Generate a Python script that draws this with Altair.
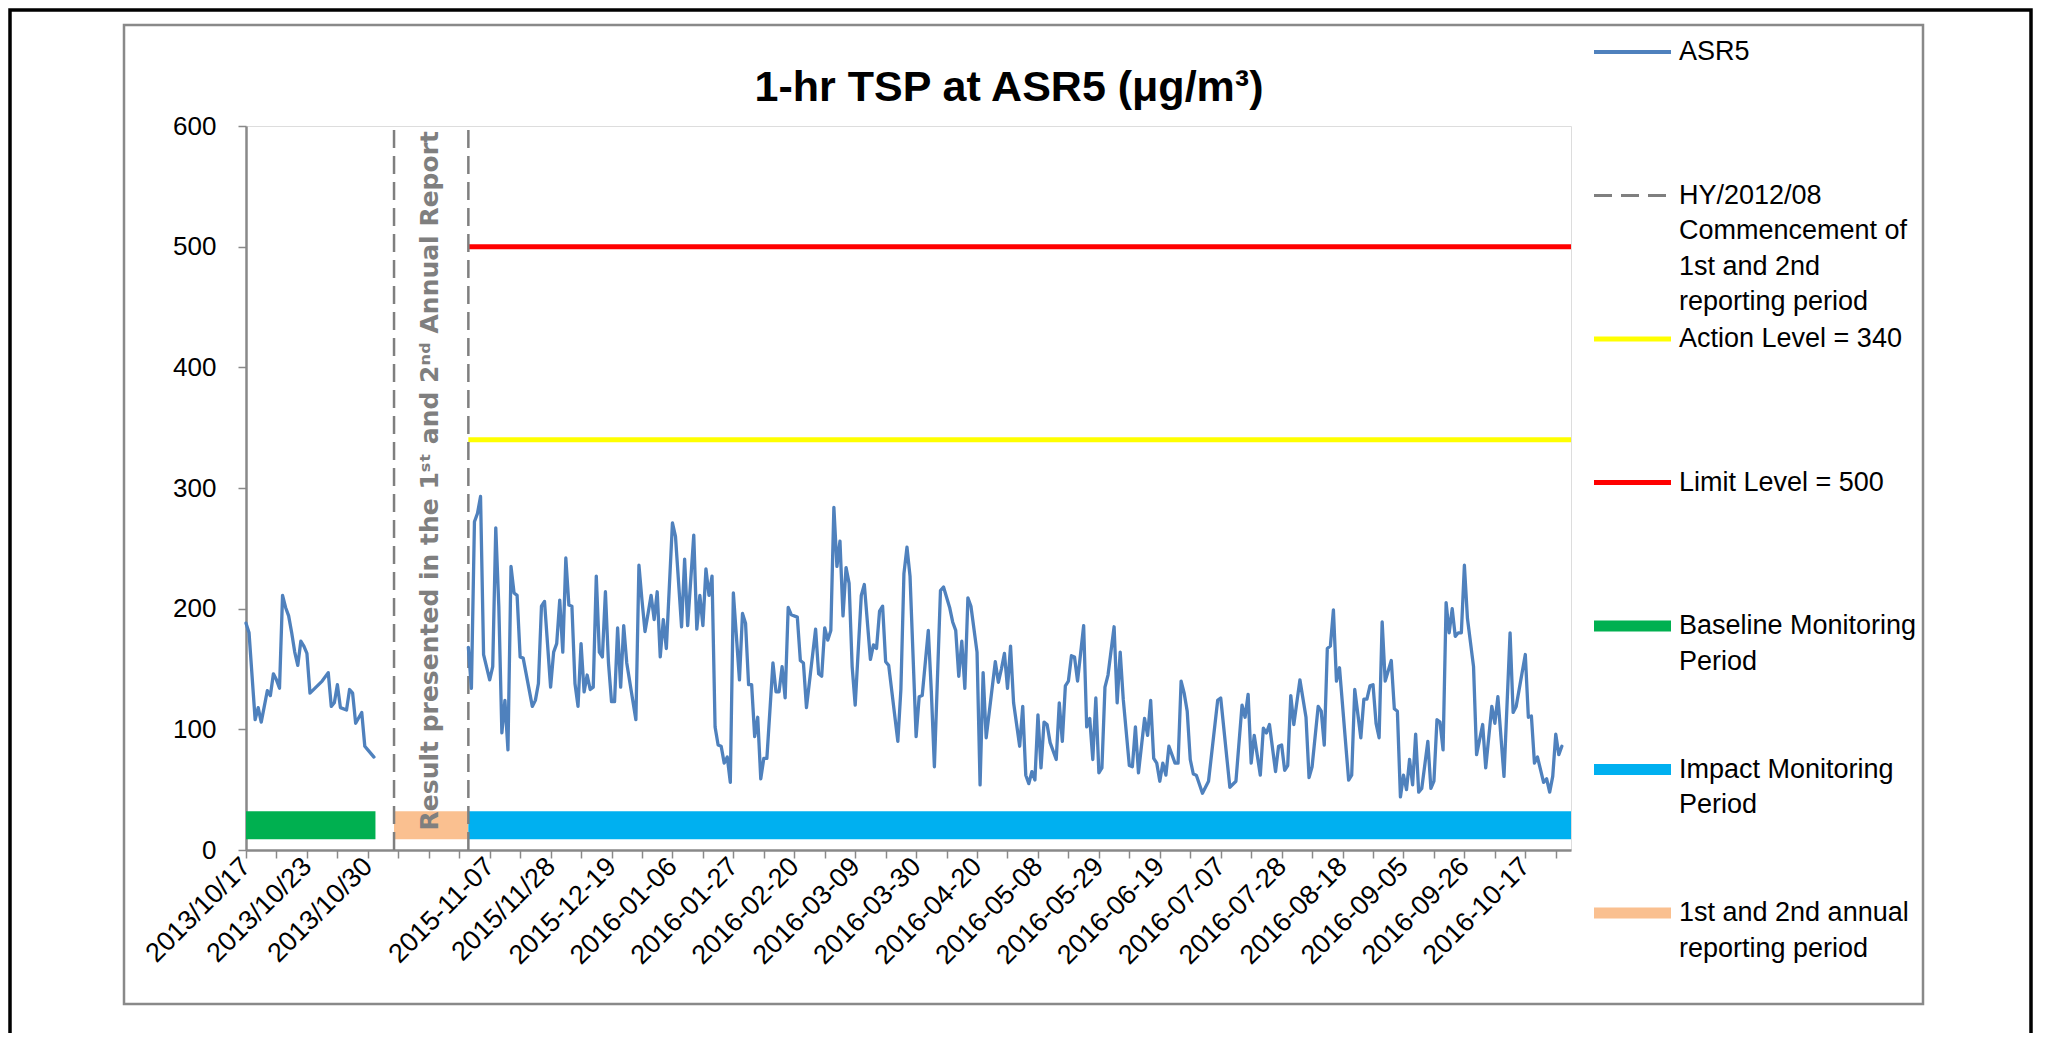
import altair as alt
import pandas as pd

# ---------------- data ----------------
TITLE = "1-hr TSP at ASR5 (μg/m³)"

# category index (one category per 1-hr measurement) and TSP value, baseline period
baseline_idx = [0, 1, 3, 4, 5, 7, 8, 9, 10, 11,
                12, 13, 14, 15, 16, 17, 18, 19, 20, 21,
                23, 25, 27, 28, 29, 30, 31,
                33, 34, 35, 36,
                38, 39, 40, 42]
baseline_val = [188, 180, 108, 118, 106, 132, 128, 146, 141, 134,
                211, 201, 194, 180, 164, 153, 173, 169, 163, 130,
                135, 140, 147, 119, 122, 137, 118,
                116, 133, 130, 105,
                114, 86, 83, 77]

# impact period
impact_idx = [
    73, 74, 75, 76, 77, 78, 80, 81, 82, 83,
    84, 85, 86, 87, 88, 89, 90, 91, 94, 95,
    96, 97, 98, 100, 101, 102, 103, 104, 105, 106,
    107, 108, 109, 110, 111, 112, 113, 114, 115, 116,
    117, 118, 119, 120, 121, 122, 123, 124, 125, 128,
    129, 130, 131, 133, 134, 135, 136, 137, 138, 140,
    141, 143, 144, 145, 147, 148, 149, 150, 151, 152,
    153, 154, 155, 156, 157, 158, 159, 160, 162, 163,
    164, 165, 166, 167, 168, 169, 170, 171, 173, 174,
    175, 176, 177, 178, 179, 181, 182, 183, 184, 187,
    188, 189, 190, 191, 192, 193, 194, 195, 196, 197,
    198, 199, 200, 202, 203, 205, 206, 207, 208, 209,
    210, 211, 214, 215, 216, 217, 218, 220, 221, 222,
    224, 225, 226, 228, 229, 231, 232, 233, 234, 235,
    236, 237, 238, 240, 241, 242, 243, 246, 247, 248,
    249, 250, 251, 252, 254, 255, 256, 257, 258, 259,
    260, 261, 262, 263, 264, 266, 267, 268, 269, 270,
    271, 272, 273, 275, 276, 277, 278, 279, 280, 281,
    282, 283, 285, 286, 287, 288, 290, 291, 292, 293,
    295, 296, 297, 298, 299, 300, 301, 302, 303, 305,
    306, 307, 308, 309, 310, 311, 312, 314, 316, 319,
    320, 323, 325, 327, 328, 329, 330, 331, 333, 334,
    335, 336, 338, 339, 340, 341, 342, 343, 344, 346,
    348, 349, 350, 352, 353, 354, 355, 356, 357, 358,
    359, 362, 363, 364, 366, 367, 368, 369, 370, 371,
    372, 373, 374, 376, 377, 378, 379, 380, 381, 382,
    383, 384, 385, 386, 388, 389, 390, 391, 392, 393,
    394, 395, 396, 397, 398, 399, 400, 401, 403, 404,
    406, 407, 409, 410, 411, 413, 415, 416, 417, 420,
    421, 422, 423, 424, 426, 427, 428, 429, 430, 431,
    432]
impact_val = [
    168, 134, 272, 279, 293, 162, 141, 152, 267, 202,
    97, 124, 83, 235, 213, 211, 160, 159, 119, 124,
    138, 202, 206, 135, 164, 171, 207, 164, 242, 203,
    202, 138, 119, 171, 131, 145, 133, 135, 227, 164,
    160, 214, 155, 123, 123, 184, 135, 186, 155, 108,
    236, 207, 181, 211, 191, 214, 160, 191, 167, 271,
    260, 185, 241, 186, 261, 183, 211, 186, 233, 211,
    227, 102, 87, 86, 72, 77, 56, 213, 141, 196,
    188, 137, 137, 94, 110, 59, 76, 76, 155, 131,
    131, 152, 126, 201, 195, 193, 157, 155, 118, 183,
    146, 144, 184, 174, 182, 284, 235, 256, 194, 234,
    221, 152, 120, 211, 220, 158, 170, 167, 198, 202,
    156, 153, 90, 133, 229, 251, 227, 94, 127, 128,
    182, 131, 69, 215, 218, 201, 189, 182, 144, 173,
    134, 209, 202, 164, 54, 147, 93, 156, 139, 150,
    163, 134, 169, 122, 86, 119, 62, 55, 65, 58,
    112, 68, 106, 104, 89, 75, 122, 90, 136, 140,
    161, 160, 140, 186, 102, 109, 75, 126, 64, 68,
    135, 145, 185, 122, 164, 125, 70, 69, 102, 64,
    109, 95, 124, 76, 72, 57, 72, 62, 86, 72,
    72, 140, 130, 115, 75, 63, 62, 47, 57, 124,
    126, 52, 57, 120, 110, 129, 72, 95, 62, 101,
    97, 104, 65, 86, 87, 66, 70, 128, 104, 141,
    110, 60, 69, 119, 115, 87, 167, 169, 199, 140,
    151, 58, 62, 133, 93, 125, 125, 136, 137, 105,
    93, 189, 140, 157, 117, 115, 44, 62, 50, 75,
    54, 96, 48, 51, 90, 51, 57, 108, 106, 83,
    205, 180, 200, 177, 180, 180, 236, 192, 152, 79,
    104, 68, 119, 105, 127, 61, 180, 114, 119, 162,
    110, 111, 72, 77, 56, 59, 48, 61, 96, 79,
    86]
assert len(impact_idx) == len(impact_val)
assert len(baseline_idx) == len(baseline_val)

# category axis: a tick every 10 categories, a date label every 20
date_labels = ["2013/10/17", "2013/10/23", "2013/10/30", "", "2015-11-07",
               "2015/11/28", "2015-12-19", "2016-01-06", "2016-01-27",
               "2016-02-20", "2016-03-09", "2016-03-30", "2016-04-20",
               "2016-05-08", "2016-05-29", "2016-06-19", "2016-07-07",
               "2016-07-28", "2016-08-18", "2016-09-05", "2016-09-26",
               "2016-10-17"]
n_categories_end = 435

# monitoring periods (category ranges) drawn as thick bars near the axis
period_names = ["Baseline Monitoring Period", "1st and 2nd annual reporting period",
                "Impact Monitoring Period"]
period_start = [0, 48.6, 73]
period_end = [42.5, 73, 435]
period_level = [20.5, 20.5, 20.5]

# criteria levels
level_names = ["Action Level = 340", "Limit Level = 500"]
level_values = [340, 500]
level_start = [73, 73]
level_end = [435, 435]

# HY/2012/08 commencement markers (category positions)
marker_pos = [48.6, 73]

note_text = ["Result presented in the 1ˢᵗ and 2ⁿᵈ Annual Report"]
note_idx = [60.4]
note_val = [306]

# ---------------- styling ----------------
FONT = "Liberation Sans"
BLUE = "#4F81BD"
GRAY = "#898989"
DASH_GRAY = "#7F7F7F"
period_colors = ["#00B050", "#FAC090", "#00B0F0"]
level_colors = ["#FFFF00", "#FF0000"]

W, H = 1325, 724
PAD = {"left": 238, "top": 118, "right": 462, "bottom": 183}

x_scale = alt.Scale(domain=[0, n_categories_end], nice=False, zero=False)
y_scale = alt.Scale(domain=[0, 600], nice=False)

tick_values = list(range(0, 431, 10))
arr = ",".join(
    ("'" + date_labels[k // 2] + "'") if (k % 2 == 0 and k // 2 < len(date_labels)) else "''"
    for k in range(len(tick_values))
)
x_axis = alt.Axis(values=tick_values, labelExpr="[" + arr + "][round(datum.value/10)]",
                  labelAngle=-45, labelAlign="right", labelBaseline="middle",
                  labelFont=FONT, labelFontSize=27, labelColor="#000000",
                  labelPadding=4, labelOverlap=False, labelFlush=False, labelBound=False,
                  tickSize=8, tickColor=GRAY, tickWidth=1.5,
                  domainColor=GRAY, domainWidth=2.5, grid=False, title=None)
y_axis = alt.Axis(values=[0, 100, 200, 300, 400, 500, 600],
                  labelFont=FONT, labelFontSize=26, labelColor="#000000",
                  labelPadding=22, tickSize=8, tickColor=GRAY, tickWidth=1.5,
                  domainColor=GRAY, domainWidth=2.5, grid=False, title=None)

X = lambda f: alt.X(f, scale=x_scale, axis=x_axis)
Y = lambda f: alt.Y(f, scale=y_scale, axis=y_axis)

series_df = pd.DataFrame({
    "category": baseline_idx + impact_idx,
    "tsp": baseline_val + impact_val,
    "segment": ["baseline"] * len(baseline_idx) + ["impact"] * len(impact_idx),
})
period_df = pd.DataFrame({"period": period_names, "start": period_start,
                          "end": period_end, "level": period_level})
level_df = pd.DataFrame({"name": level_names, "value": level_values,
                         "start": level_start, "end": level_end})
marker_df = pd.DataFrame({"pos": marker_pos})
note_df = pd.DataFrame({"label": note_text, "idx": note_idx, "val": note_val})
one = pd.DataFrame({"k": [0]})

bars = alt.Chart(period_df).mark_rule(strokeWidth=28, strokeCap="butt").encode(
    x=X("start:Q"), x2="end:Q", y=Y("level:Q"),
    stroke=alt.Stroke("period:N", scale=alt.Scale(domain=period_names, range=period_colors),
                      legend=None),
)
levels = alt.Chart(level_df).mark_rule(strokeWidth=5, strokeCap="butt").encode(
    x=X("start:Q"), x2="end:Q", y=Y("value:Q"),
    color=alt.Color("name:N", scale=alt.Scale(domain=level_names, range=level_colors),
                    legend=None),
)
markers = alt.Chart(marker_df).mark_rule(color=DASH_GRAY, strokeWidth=2.5,
                                         strokeDash=[18, 8]).encode(
    x=X("pos:Q"), y=alt.datum(0, scale=y_scale, axis=y_axis), y2=alt.datum(600),
)
line = alt.Chart(series_df).mark_line(color=BLUE, strokeWidth=3.3, strokeJoin="round",
                                      strokeCap="round").encode(
    x=X("category:Q"), y=Y("tsp:Q"), detail="segment:N",
)
note = alt.Chart(note_df).mark_text(angle=270, align="center", baseline="middle",
                                    font="DejaVu Sans", fontWeight="bold", fontSize=25,
                                    color=DASH_GRAY).encode(
    x=X("idx:Q"), y=Y("val:Q"), text="label:N",
)

layers = [bars, levels, markers, line, note]

# chart title, centred over the chart area as in the original
layers.append(alt.Chart(one).mark_text(text=TITLE, align="center", baseline="alphabetic",
                                       font=FONT, fontSize=43, fontWeight="bold",
                                       color="#000000").encode(
    x=alt.value(763), y=alt.value(-25)))

# ---------------- legend (drawn manually to match Excel's layout) ----------------
LX0, LX1, TX = 1348, 1425, 1433
LY0, LSTEP, LLINE = -74, 143.5, 35.5
legend_entries = [
    (BLUE, 4, None, ["ASR5"]),
    (DASH_GRAY, 3, [18, 9], ["HY/2012/08", "Commencement of", "1st and 2nd",
                             "reporting period"]),
    ("#FFFF00", 5, None, ["Action Level = 340"]),
    ("#FF0000", 5, None, ["Limit Level = 500"]),
    ("#00B050", 11, None, ["Baseline Monitoring", "Period"]),
    ("#00B0F0", 11, None, ["Impact Monitoring", "Period"]),
    ("#FAC090", 11, None, ["1st and 2nd annual", "reporting period"]),
]
for i, (col, sw, dash, lines) in enumerate(legend_entries):
    yy = LY0 + i * LSTEP
    kw = dict(color=col, strokeWidth=sw, strokeCap="butt")
    if dash:
        kw["strokeDash"] = dash
    layers.append(alt.Chart(one).mark_rule(**kw).encode(
        x=alt.value(LX0), x2=alt.value(LX1), y=alt.value(yy)))
    for j, txt in enumerate(lines):
        layers.append(alt.Chart(one).mark_text(text=txt, align="left", baseline="middle",
                                               font=FONT, fontSize=27, color="#000000").encode(
            x=alt.value(TX), y=alt.value(yy + j * LLINE)))

# chart-area frame and outer page frame
layers.append(alt.Chart(one).mark_rect(filled=False, stroke=GRAY, strokeWidth=2.5).encode(
    x=alt.value(-122), x2=alt.value(1677), y=alt.value(-101), y2=alt.value(878)))
cw = PAD["left"] + W + PAD["right"]
layers.append(alt.Chart(one).mark_rect(filled=False, stroke="#000000", strokeWidth=3.5).encode(
    x=alt.value(-PAD["left"] + 2), x2=alt.value(cw - PAD["left"] - 2),
    y=alt.value(-PAD["top"] + 2), y2=alt.value(H + PAD["bottom"] + 20)))

chart = alt.layer(*layers).resolve_scale(color="independent", stroke="independent").properties(
    width=W, height=H,
    autosize=alt.AutoSizeParams(type="none"),
    padding=PAD,
).configure_view(stroke=GRAY, strokeWidth=2.5).configure(background="white")

chart.save("out.html", embed_options={"renderer": "svg", "actions": False})
